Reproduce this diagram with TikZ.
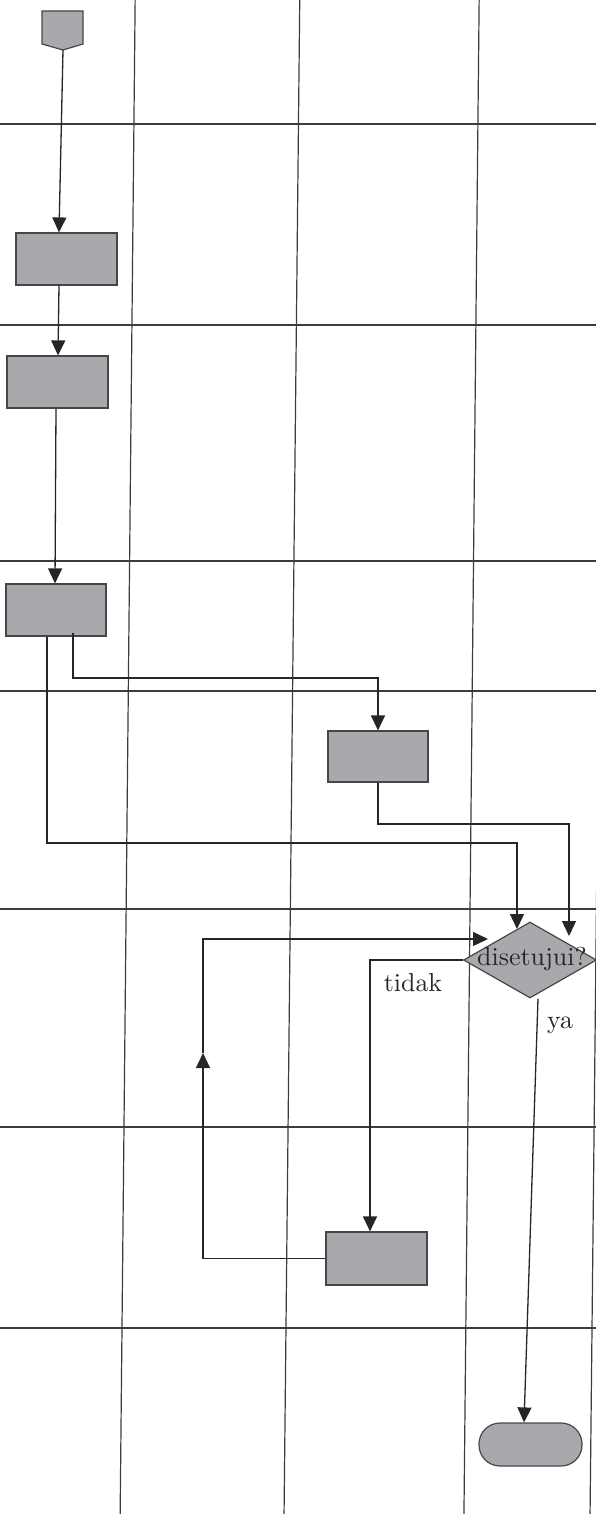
\documentclass[tikz,border=0pt]{standalone}
\usepackage{fontspec}
\newfontfamily\lblfont{lmroman10-regular.otf}
\usetikzlibrary{arrows.meta,shapes.geometric,calc}
\definecolor{boxfill}{RGB}{168,168,173}
\definecolor{edgec}{RGB}{70,70,70}
\definecolor{gridc}{RGB}{60,60,60}
\tikzset{
 gridline/.style={draw=gridc, line width=1.2bp},
 procbox/.style={draw=edgec, fill=boxfill, line width=1.2bp, minimum width=101bp, minimum height=52bp, inner sep=0pt},
 conn/.style={draw=black!85, line width=1.3bp},
 arr/.style={conn, -{Triangle[length=15bp,width=14bp]}},
 lbl/.style={font=\lblfont\fontsize{26}{30}\selectfont, inner sep=0pt, text=black!85},
}
\begin{document}
\begin{tikzpicture}[x=1bp,y=-1bp]
\useasboundingbox (0,0) rectangle (596,1514);
\begin{scope}
\clip (0,0) rectangle (596,1514);
\foreach \yy in {124,325,561,691,909,1127,1328} \draw[gridline] (-5,\yy) -- (601,\yy);
\draw[gridline] (135.2,-5) -- (120.1,1519);
\draw[gridline] (299.8,-5) -- (284.0,1519);
\draw[gridline] (479.2,-5) -- (463.9,1519);
\draw[gridline] (606,-5) -- (590,1519);
\end{scope}

% shapes
\draw[draw=edgec, fill=boxfill, line width=1.2bp] (42,11) -- (83,11) -- (83,44) -- (63,50) -- (42,44) -- cycle;
\coordinate (s) at (63,50);
\node[procbox] (b1) at (66.5,259) {};
\node[procbox] (b2) at (57.5,382) {};
\node[procbox, minimum width=100bp] (b3) at (56,610) {};
\node[procbox, minimum width=100bp, minimum height=51bp] (b4) at (378,756.5) {};
\node[procbox, minimum height=53bp] (b5) at (376.5,1258.5) {};
\node[procbox, rounded corners=21bp, minimum width=103bp, minimum height=43bp] (t) at (530.5,1444.5) {};
\node[diamond, draw=edgec, fill=boxfill, line width=1.2bp, minimum width=133bp, minimum height=76bp, inner sep=0pt] (dia) at (530,960) {};
\node[lbl] (dtext) at (532,959) {disetujui?};

% coordinates
\coordinate (y678) at (0,678);
\coordinate (y843) at (0,843);
\coordinate (y824) at (0,824);
\coordinate (dA) at (517,929);
\coordinate (dB) at (569,936);
\coordinate (bk) at (203,1053);
\coordinate (dL) at (488,939);

% connectors
\draw[arr] (s) -- ([xshift=-7.5bp]b1.north);
\draw[arr] ([xshift=-7.5bp]b1.south) -- ([xshift=0.5bp]b2.north);
\draw[arr] ([xshift=-1.5bp]b2.south) -- ([xshift=-1bp]b3.north);
\draw[arr] ([xshift=17bp,yshift=4bp]b3.south) -- ([xshift=17bp]b3.south |- y678) -| (b4.north);
\draw[arr] ([xshift=-9bp]b3.south) -- ([xshift=-9bp]b3.south |- y843) -| (dA);
\draw[arr] (b4.south) -- (b4.south |- y824) -| (dB);
\draw[arr] (dia.west) -| ([xshift=-6.5bp]b5.north);
\draw[arr] (b5.west) -| (bk);
\draw[arr] (bk) |- (dL);
\draw[arr] ([xshift=8bp]dia.south) -- ([xshift=-6.5bp]t.north);

% labels
\node[lbl] (tidak) at (413,983) {tidak};
\node[lbl] (ya) at (560,1025) {ya};
\end{tikzpicture}
\end{document}
